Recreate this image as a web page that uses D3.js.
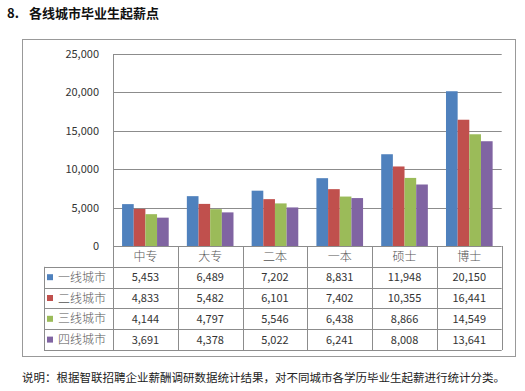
<!DOCTYPE html>
<html>
<head>
<meta charset="utf-8">
<script src="https://cdn.jsdelivr.net/npm/d3@7"></script>
<style>
  body { margin: 0; background: #fff; }
  text { font-family: "Noto Sans CJK SC", "Noto Sans", sans-serif; }
</style>
</head>
<body>
<div id="chart"></div>
<script>
const categories = ["中专", "大专", "二本", "一本", "硕士", "博士"];
const seriesNames = ["一线城市", "二线城市", "三线城市", "四线城市"];
const tier1 = [5453, 6489, 7202, 8831, 11948, 20150];
const tier2 = [4833, 5482, 6101, 7402, 10355, 16441];
const tier3 = [4144, 4797, 5546, 6438, 8866, 14549];
const tier4 = [3691, 4378, 5022, 6241, 8008, 13641];
const yTicks = [0, 5000, 10000, 15000, 20000, 25000];
const colors = ["#4F81BD", "#C0504D", "#9BBB59", "#8064A2"];

const series = [tier1, tier2, tier3, tier4];

const width = 525, height = 391;
const plot = { left: 113, right: 501.7, top: 54, bottom: 246 };
const rowH = 20.8;
const tableLeft = 44;

const svg = d3.select("#chart").append("svg")
  .attr("width", width)
  .attr("height", height);

svg.append("rect").attr("width", width).attr("height", height).attr("fill", "#fff");

// titre
const title = svg.append("text")
  .attr("y", 18)
  .style("font-size", "13px")
  .style("font-weight", "bold")
  .attr("fill", "#111");
title.append("tspan").attr("x", 7).text("8.");
title.append("tspan").attr("x", 29).text("各线城市毕业生起薪点");

// cadre
svg.append("rect")
  .attr("x", 22.5).attr("y", 39.5)
  .attr("width", 493).attr("height", 317)
  .attr("fill", "none")
  .attr("stroke", "#999")
  .attr("stroke-width", 1);

const x0 = d3.scaleBand()
  .domain(categories)
  .range([plot.left, plot.right])
  .paddingInner(0.28)
  .paddingOuter(0.14);

const x1 = d3.scaleBand()
  .domain(d3.range(series.length))
  .range([0, x0.bandwidth()]);

const y = d3.scaleLinear()
  .domain([0, 25000])
  .range([plot.bottom, plot.top]);

// grille
svg.append("g")
  .selectAll("line")
  .data(yTicks.slice(1))
  .join("line")
  .attr("x1", plot.left).attr("x2", plot.right)
  .attr("y1", d => Math.round(y(d)) + 0.5)
  .attr("y2", d => Math.round(y(d)) + 0.5)
  .attr("stroke", "#8c8c8c");

// axe Y
const yAxis = svg.append("g")
  .attr("transform", `translate(${plot.left},0)`)
  .call(d3.axisLeft(y).tickValues(yTicks).tickSize(0).tickPadding(14).tickFormat(d3.format(",")));
yAxis.select(".domain").remove();
yAxis.selectAll("text")
  .style("font-size", "11px")
  .attr("fill", "#333");

svg.append("line")
  .attr("x1", plot.left + 0.5).attr("x2", plot.left + 0.5)
  .attr("y1", plot.top).attr("y2", plot.bottom + rowH * 5)
  .attr("stroke", "#8c8c8c");

// barres
const groups = svg.append("g")
  .selectAll("g")
  .data(categories)
  .join("g")
  .attr("transform", d => `translate(${x0(d)},0)`);

groups.selectAll("rect")
  .data((d, i) => series.map((s, k) => ({ k, v: s[i] })))
  .join("rect")
  .attr("x", d => x1(d.k))
  .attr("y", d => y(d.v))
  .attr("width", x1.bandwidth())
  .attr("height", d => y(0) - y(d.v))
  .attr("fill", d => colors[d.k]);

// tableau
const table = svg.append("g");
const step = x0.step();
const colEdges = categories.map(c => x0(c) - x0.paddingInner() * step / 2);
colEdges.push(plot.right);

// lignes horizontales
table.append("line")
  .attr("x1", plot.left).attr("x2", plot.right)
  .attr("y1", plot.bottom + 0.5).attr("y2", plot.bottom + 0.5)
  .attr("stroke", "#8c8c8c");
for (let r = 1; r <= 5; r++) {
  const yy = Math.round(plot.bottom + r * rowH) + 0.5;
  table.append("line")
    .attr("x1", tableLeft).attr("x2", plot.right)
    .attr("y1", yy).attr("y2", yy)
    .attr("stroke", "#8c8c8c");
}
// lignes verticales
colEdges.slice(1).forEach(xx => {
  table.append("line")
    .attr("x1", Math.round(xx) + 0.5).attr("x2", Math.round(xx) + 0.5)
    .attr("y1", plot.bottom).attr("y2", plot.bottom + rowH * 5)
    .attr("stroke", "#8c8c8c");
});
table.append("line")
  .attr("x1", tableLeft + 0.5).attr("x2", tableLeft + 0.5)
  .attr("y1", plot.bottom + rowH).attr("y2", plot.bottom + rowH * 5)
  .attr("stroke", "#8c8c8c");

// en-tête
table.selectAll("text.cat")
  .data(categories)
  .join("text")
  .attr("class", "cat")
  .attr("x", d => x0(d) + x0.bandwidth() / 2)
  .attr("y", plot.bottom + rowH / 2 + 4.5)
  .attr("text-anchor", "middle")
  .style("font-size", "12px")
  .style("font-weight", "300")
  .attr("fill", "#555")
  .text(d => d);

// lignes de séries
seriesNames.forEach((name, k) => {
  const cy = plot.bottom + rowH * (k + 1) + rowH / 2;
  table.append("rect")
    .attr("x", 47).attr("y", cy - 3)
    .attr("width", 6).attr("height", 6)
    .attr("fill", colors[k]);
  table.append("text")
    .attr("x", 58).attr("y", cy + 4.5)
    .style("font-size", "12px")
    .style("font-weight", "300")
    .attr("fill", "#555")
    .text(name);
  table.selectAll(null)
    .data(series[k])
    .join("text")
    .attr("x", (d, i) => x0(categories[i]) + x0.bandwidth() / 2)
    .attr("y", cy + 4)
    .attr("text-anchor", "middle")
    .style("font-size", "11px")
    .attr("fill", "#333")
    .text(d => d3.format(",")(d));
});

// note
svg.append("text")
  .attr("x", 22)
  .attr("y", 382)
  .style("font-size", "11.5px")
  .attr("fill", "#222")
  .text("说明：根据智联招聘企业薪酬调研数据统计结果，对不同城市各学历毕业生起薪进行统计分类。");
</script>
</body>
</html>
